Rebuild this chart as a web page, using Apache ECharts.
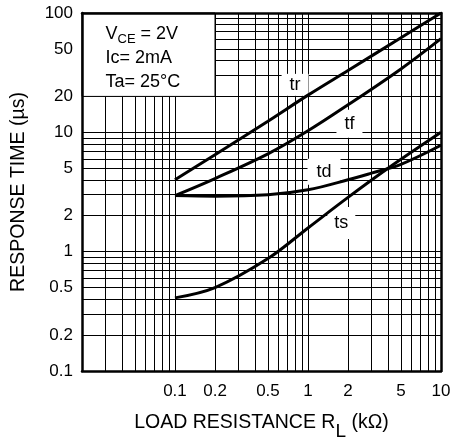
<!DOCTYPE html>
<html>
<head>
<meta charset="utf-8">
<script src="https://cdn.jsdelivr.net/npm/echarts@6/dist/echarts.min.js"></script>
<style>html,body{margin:0;padding:0;background:#fff}#c{width:453px;height:437px}</style>
</head>
<body>
<div id="c"></div>
<script>
// ---- data (x: load resistance kΩ, y: response time µs) ----
var trData = [[0.1, 4], [0.2, 6.5], [0.5, 12.4], [1, 20.5], [2, 33], [5, 62], [10, 100]];
var tfData = [[0.1, 2.95], [0.2, 4.1], [0.5, 6.6], [1, 10.3], [2, 17.0], [5, 34], [10, 61]];
var tdData = [[0.1, 2.95], [0.2, 2.92], [0.5, 3.0], [1, 3.3], [2, 4.0], [3, 4.55], [5, 5.4], [10, 7.8]];
var tsData = [[0.1, 0.41], [0.2, 0.5], [0.5, 0.875], [1, 1.58], [2, 2.85], [4, 5.0], [10, 10]];
var xTickLabels = [0.1, 0.2, 0.5, 1, 2, 5, 10];
var yTickLabels = [0.1, 0.2, 0.5, 1, 2, 5, 10, 20, 50, 100];
var xGridValues = [0.03, 0.04, 0.05, 0.06, 0.07, 0.08, 0.09, 0.1, 0.2, 0.3, 0.4, 0.5, 0.6, 0.7, 0.8, 0.9, 1, 2, 3, 4, 5, 6, 7, 8, 9];
var yGridValues = [0.2, 0.3, 0.4, 0.5, 0.6, 0.7, 0.8, 0.9, 1, 2, 3, 4, 5, 6, 7, 8, 9, 10, 20, 30, 40, 50, 60, 70, 80, 90];
var curveNames = ['tr', 'tf', 'td', 'ts'];
var labelCoords = [[0.8, 25], [2.05, 11.8], [1.32, 4.67], [1.78, 1.74]];

var FONT = '"Liberation Sans", Arial, Helvetica, sans-serif';
var chart = echarts.init(document.getElementById('c'), null, {renderer: 'canvas'});

var gridLines = [];
xGridValues.forEach(function (v) { gridLines.push({xAxis: v}); });
yGridValues.forEach(function (v) { gridLines.push({yAxis: v}); });

var labelPads = [[2, 8], [5, 8], [4, 9], [7, 7]];
function curve(name, data, idx) {
  return {
    type: 'line', name: name, data: data, smooth: 0.35, showSymbol: false, symbol: 'none',
    z: 5, silent: true,
    lineStyle: {color: '#000', width: 3},
    markPoint: {
      z: 4, symbol: 'circle', symbolSize: 0, silent: true,
      label: {show: true, position: 'inside', formatter: name, color: '#000',
        fontFamily: FONT, fontSize: 18, backgroundColor: '#fff', padding: labelPads[idx]},
      data: [{coord: labelCoords[idx]}]
    }
  };
}

var frameAxis = {axisLine: {show: true, onZero: false, lineStyle: {color: '#000', width: 2.5}}, axisTick: {show: false},
  axisLabel: {show: false}, splitLine: {show: false}, z: 10};

var option = {
  animation: false,
  grid: {left: 82, top: 13, right: 12, bottom: 66, containLabel: false, outerBoundsMode: 'none'},
  xAxis: [{
    type: 'log', logBase: 10, min: 0.02, max: 10, z: 10,
    axisLine: {show: true, onZero: false, lineStyle: {color: '#000', width: 2.5}},
    axisTick: {show: false}, splitLine: {show: false}, minorSplitLine: {show: false},
    axisLabel: {show: true, customValues: xTickLabels, color: '#000', fontFamily: FONT, fontSize: 17, margin: 12,
      hideOverlap: false, formatter: function (v) { return String(+v.toPrecision(3)); }},
    name: '{a|LOAD RESISTANCE R}{s|L}{a| (kΩ)}', nameLocation: 'middle', nameGap: 28,
    nameTextStyle: {rich: {
      a: {fontFamily: FONT, fontSize: 19.5, color: '#000', lineHeight: 20},
      s: {fontFamily: FONT, fontSize: 19, color: '#000', lineHeight: 20, padding: [17, 0, 0, 0]}}}
  }, Object.assign({type: 'log', min: 0.02, max: 10, position: 'top'}, frameAxis)],
  yAxis: [{
    type: 'log', logBase: 10, min: 0.1, max: 100, z: 10,
    axisLine: {show: true, onZero: false, lineStyle: {color: '#000', width: 2.5}},
    axisTick: {show: false}, splitLine: {show: false}, minorSplitLine: {show: false},
    axisLabel: {show: true, customValues: yTickLabels, color: '#000', fontFamily: FONT, fontSize: 17, margin: 9,
      hideOverlap: false, formatter: function (v) { return String(+v.toPrecision(3)); }},
    name: 'RESPONSE TIME (µs)', nameLocation: 'middle', nameGap: 53, nameRotate: 90,
    nameTextStyle: {fontFamily: FONT, fontSize: 19.5, color: '#000'}
  }, Object.assign({type: 'log', min: 0.1, max: 100, position: 'right'}, frameAxis)],
  series: [
    {
      type: 'line', data: [], z: 1, silent: true, symbol: 'none',
      markLine: {z: 1, silent: true, symbol: ['none', 'none'], animation: false,
        label: {show: false}, lineStyle: {color: '#000', width: 1, type: 'solid'},
        emphasis: {disabled: true}, data: gridLines}
    },
    {
      type: 'line', data: [], z: 3, silent: true, symbol: 'none',
      markArea: {z: 3, silent: true,
        itemStyle: {color: '#fff', opacity: 1, borderColor: '#000', borderWidth: 1},
        label: {show: true, position: [24, 10], align: 'left', verticalAlign: 'top',
          formatter: '{a|V}{s|CE}{a| = 2V}\n{a|Ic= 2mA}\n{a|Ta= 25°C}',
          rich: {
            a: {fontFamily: FONT, fontSize: 18, color: '#000', lineHeight: 24},
            s: {fontFamily: FONT, fontSize: 13, color: '#000', lineHeight: 24, padding: [10, 0, 0, 0]}
          }},
        data: [[{xAxis: 0.02, yAxis: 100}, {xAxis: 0.2, yAxis: 20}]]
      }
    },
    curve('tr', trData, 0),
    curve('tf', tfData, 1),
    curve('td', tdData, 2),
    curve('ts', tsData, 3)
  ]
};
chart.setOption(option);
</script>
</body>
</html>
